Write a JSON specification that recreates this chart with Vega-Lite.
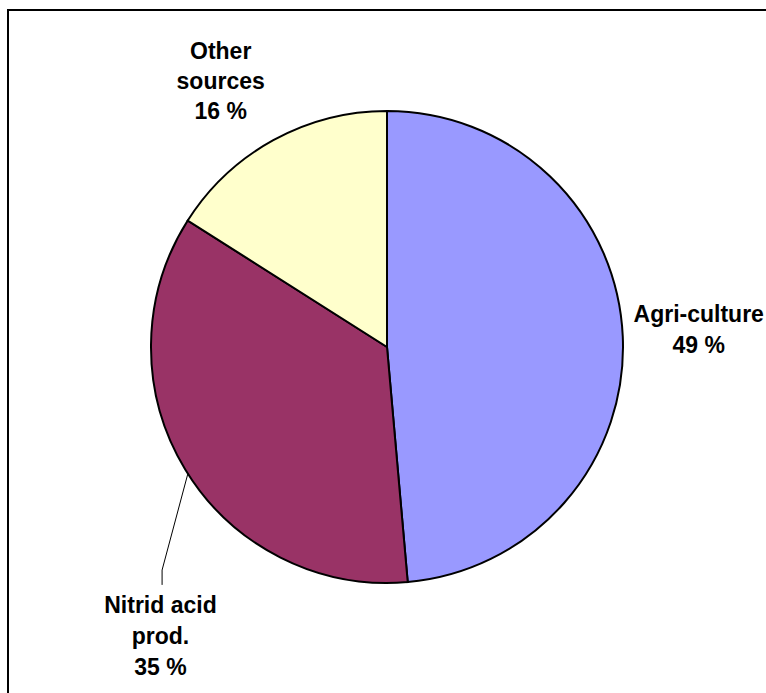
{
  "$schema": "https://vega.github.io/schema/vega-lite/v6.json",
  "width": 800,
  "height": 700,
  "autosize": "none",
  "padding": {"left": 8, "top": 10, "right": 0, "bottom": 0},
  "background": "white",
  "config": {
    "view": {"stroke": "black", "strokeWidth": 2},
    "text": {"font": "Liberation Sans"}
  },
  "datasets": {
    "shares": [
      {"source": "Agri-culture", "label": "Agri-culture\n49 %", "share": 48.6, "order": 1},
      {"source": "Nitrid acid prod.", "label": "Nitrid acid\nprod.\n35 %", "share": 35.4, "order": 2},
      {"source": "Other sources", "label": "Other\nsources\n16 %", "share": 16.0, "order": 3}
    ],
    "leader": [
      {"x": -0.843, "y": 0.534, "i": 1},
      {"x": -0.953, "y": 0.945, "i": 2},
      {"x": -0.953, "y": 1.008, "i": 3}
    ]
  },
  "layer": [
    {
      "data": {"name": "shares"},
      "mark": {"type": "arc", "outerRadius": 236, "stroke": "black", "strokeWidth": 2, "xOffset": -21, "yOffset": -13},
      "encoding": {
        "theta": {"field": "share", "type": "quantitative", "stack": true},
        "order": {"field": "order", "type": "quantitative"},
        "color": {
          "field": "source",
          "type": "nominal",
          "scale": {"domain": ["Agri-culture", "Nitrid acid prod.", "Other sources"], "range": ["#9999FF", "#993366", "#FFFFCC"]},
          "legend": null
        }
      }
    },
    {
      "data": {"name": "shares"},
      "mark": {"type": "text", "radius": 312, "fontSize": 23, "fontWeight": "bold", "lineBreak": "\n", "lineHeight": 31, "dx": -21, "dy": -31, "color": "black"},
      "encoding": {
        "theta": {"field": "share", "type": "quantitative", "stack": true},
        "order": {"field": "order", "type": "quantitative"},
        "text": {"condition": {"test": "datum.source === 'Agri-culture'", "field": "label", "type": "nominal"}, "value": ""}
      }
    },
    {
      "data": {"name": "shares"},
      "mark": {"type": "text", "radius": 312, "fontSize": 23, "fontWeight": "bold", "lineBreak": "\n", "lineHeight": 30, "dx": -37, "dy": -35, "color": "black"},
      "encoding": {
        "theta": {"field": "share", "type": "quantitative", "stack": true},
        "order": {"field": "order", "type": "quantitative"},
        "text": {"condition": {"test": "datum.source === 'Other sources'", "field": "label", "type": "nominal"}, "value": ""}
      }
    },
    {
      "data": {"name": "shares"},
      "mark": {"type": "text", "radius": 312, "fontSize": 23, "fontWeight": "bold", "lineBreak": "\n", "lineHeight": 31, "dx": 19, "dy": 84, "color": "black"},
      "encoding": {
        "theta": {"field": "share", "type": "quantitative", "stack": true},
        "order": {"field": "order", "type": "quantitative"},
        "text": {"condition": {"test": "datum.source === 'Nitrid acid prod.'", "field": "label", "type": "nominal"}, "value": ""}
      }
    },
    {
      "data": {"name": "leader"},
      "mark": {"type": "line", "color": "black", "strokeWidth": 1},
      "encoding": {
        "x": {"field": "x", "type": "quantitative", "scale": {"domain": [-1.6059, 1.7839], "zero": false, "nice": false}, "axis": null},
        "y": {"field": "y", "type": "quantitative", "scale": {"domain": [-1.428, 1.5381], "zero": false, "nice": false, "reverse": true}, "axis": null},
        "order": {"field": "i", "type": "quantitative"}
      }
    }
  ]
}
